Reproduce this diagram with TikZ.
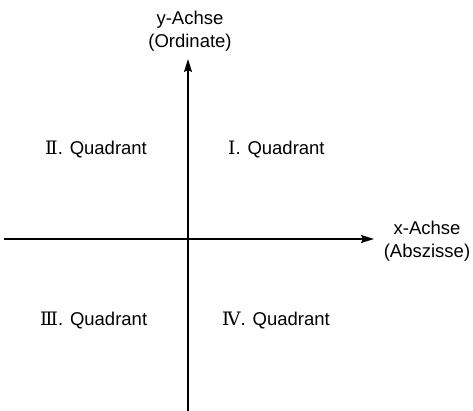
\documentclass[tikz,border=0pt]{standalone}
\usepackage{fontspec}
\setmainfont{Liberation Sans}
\newfontfamily\romfont{DejaVu Serif}
\usetikzlibrary{arrows.meta}
\begin{document}
\begin{tikzpicture}[x=1pt,y=-1pt,
  axis/.style={line width=1.6pt,-{Stealth[length=13pt,width=8pt,inset=2pt]}},
  lbl/.style={font=\fontsize{18.5}{23.5}\selectfont,inner sep=0pt},
  axlbl/.style={lbl,align=center}]
\useasboundingbox (0,0) rectangle (473,411);
\coordinate (yb) at (188,411);
\coordinate (yt) at (188,59);
\coordinate (xl) at (4,239);
\coordinate (xr) at (374,239);
\draw[axis] (xl) -- (xr);
\draw[axis] (yb) -- (yt);
\node[axlbl] (ylab) at (190,31) {y-Achse\\(Ordinate)};
\node[axlbl] (xlab) at (427,241) {x-Achse\\(Abszisse)};
\node[lbl,anchor=base west] (q2) at (45,155) {{\romfont Ⅱ}. Quadrant};
\node[lbl,anchor=base west] (q1) at (228,155) {{\romfont Ⅰ}. Quadrant};
\node[lbl,anchor=base west] (q3) at (40,325) {{\romfont Ⅲ}. Quadrant};
\node[lbl,anchor=base west] (q4) at (222,325) {{\romfont Ⅳ}. Quadrant};
\end{tikzpicture}
\end{document}
